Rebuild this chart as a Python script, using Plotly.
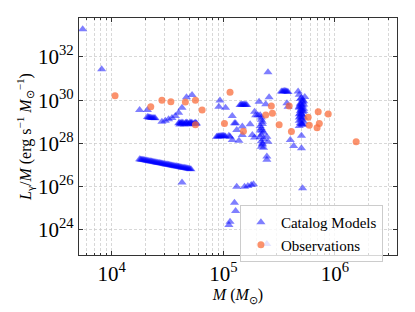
import numpy as np
import plotly.graph_objects as go

# Catalog models: log10(M / Msun), log10(L_gamma/M / erg s^-1 Msun^-1)
catalog_log_mass = [
    3.74, 3.91, 4.25, 4.32,
    4.32, 4.34, 4.36, 4.38, 4.39, 4.33, 4.35, 4.37,
    4.45, 4.48, 4.51, 4.54, 4.57, 4.60, 4.63, 4.67, 4.72,
    4.60, 4.62, 4.64, 4.66, 4.68, 4.70, 4.72, 4.74, 4.76, 4.61, 4.65, 4.69, 4.73,
    4.61, 4.63, 4.67, 4.71, 4.75, 4.63, 4.67, 4.71, 4.75,
    4.25, 4.27, 4.29, 4.31, 4.33, 4.35, 4.37, 4.39, 4.41, 4.43, 4.45, 4.47,
    4.49, 4.51, 4.53, 4.55, 4.57, 4.59, 4.61, 4.63, 4.65, 4.67, 4.69, 4.71,
    4.26, 4.28, 4.30, 4.32, 4.34, 4.36, 4.38, 4.40, 4.42, 4.44, 4.46, 4.48,
    4.50, 4.52, 4.54, 4.56, 4.58, 4.60, 4.62, 4.64, 4.66, 4.68, 4.70,
    4.63,
    4.97, 4.96, 5.02, 5.08, 5.15, 5.17, 5.19, 5.21, 5.16, 5.18, 5.20, 5.11,
    4.94, 4.96, 4.98, 5.00, 4.95, 4.97, 4.99, 5.01,
    5.02, 5.05, 5.08, 5.06, 5.14, 5.10, 5.17, 5.12, 5.17,
    5.40, 5.32, 5.41, 5.38, 5.28, 5.29, 5.31, 5.24, 5.33, 5.34, 5.35, 5.34, 5.36,
    5.33, 5.26, 5.28, 5.33, 5.34, 5.35, 5.36, 5.39, 5.40, 5.39, 5.39,
    5.34, 5.35, 5.33, 5.35, 5.34, 5.36, 5.35, 5.34,
    5.52, 5.54, 5.56, 5.58, 5.53, 5.55, 5.57, 5.67, 5.58, 5.57,
    5.68, 5.70, 5.72, 5.69, 5.71, 5.68, 5.70, 5.72, 5.69, 5.71, 5.68, 5.70, 5.72,
    5.69, 5.71, 5.68, 5.70, 5.71, 5.73, 5.69, 5.70,
    5.69, 5.71, 5.68, 5.72, 5.69, 5.71, 5.70, 5.72, 5.68, 5.71, 5.69, 5.70, 5.72, 5.68, 5.70,
    5.60, 5.63, 5.70, 5.70,
    5.12, 5.19, 5.22, 5.25, 5.27, 5.71, 5.10, 5.11, 5.06, 5.05, 5.39,
]
catalog_log_lum = [
    33.28, 31.43, 29.55, 29.55,
    29.22, 29.20, 29.18, 29.17, 29.16, 29.21, 29.19, 29.18,
    29.00, 29.05, 29.12, 29.18, 29.27, 29.42, 29.65, 30.14, 30.24,
    28.93, 28.93, 28.94, 28.94, 28.94, 28.94, 28.94, 28.93, 28.92, 28.88, 28.88, 28.89, 28.89,
    28.96, 28.97, 28.97, 28.97, 28.96, 28.90, 28.90, 28.91, 28.90,
    27.27, 27.25, 27.23, 27.21, 27.19, 27.17, 27.15, 27.13, 27.11, 27.09, 27.07, 27.05,
    27.03, 27.01, 26.99, 26.97, 26.95, 26.93, 26.91, 26.89, 26.87, 26.85, 26.83, 26.81,
    27.26, 27.24, 27.22, 27.20, 27.18, 27.16, 27.14, 27.12, 27.10, 27.08, 27.06, 27.04,
    27.02, 27.00, 26.98, 26.96, 26.94, 26.92, 26.90, 26.88, 26.86, 26.84, 26.82,
    26.19,
    29.98, 29.70, 29.65, 29.27, 29.78, 29.79, 29.79, 29.78, 29.80, 29.80, 29.79, 28.93,
    28.31, 28.33, 28.34, 28.35, 28.32, 28.33, 28.34, 28.33,
    28.32, 28.36, 28.16, 28.31, 28.12, 28.93, 28.78, 28.62, 28.39,
    31.29, 29.93, 30.14, 29.81, 29.47, 29.30, 29.30, 28.89, 29.30, 29.10, 28.90, 28.70, 28.50,
    28.60, 28.39, 28.27, 28.30, 28.10, 27.95, 27.80, 28.31, 28.08, 27.39, 27.24,
    29.20, 29.00, 28.80, 28.60, 28.40, 28.20, 28.00, 27.85,
    30.40, 30.41, 30.41, 30.38, 30.40, 30.42, 30.40, 30.40, 29.70, 29.86,
    30.25, 30.10, 29.95, 29.85, 29.75, 29.65, 29.55, 29.50, 29.40, 29.30, 29.20, 29.10, 29.00,
    28.95, 28.85, 28.80, 29.60, 30.00, 30.15, 29.25, 28.90,
    30.05, 29.90, 29.70, 29.60, 29.50, 29.45, 29.35, 29.20, 29.05, 28.90, 29.80, 29.70, 29.80, 29.35, 29.15,
    28.16, 27.88, 28.35, 27.78,
    26.00, 26.00, 26.03, 26.08, 26.11, 25.93, 25.26, 24.88, 24.38, 24.23, 23.35,
]

# Observations
obs_log_mass = [
    4.03, 4.35, 4.45, 4.53, 4.66, 4.75, 4.81, 4.75, 5.06, 5.01, 5.18,
    5.43, 5.44, 5.38, 5.50, 5.61, 5.59, 5.76, 5.85, 5.94, 5.77, 5.86, 5.84, 6.19,
]
obs_log_lum = [
    30.20, 29.70, 30.00, 29.93, 29.92, 30.00, 29.55, 28.86, 30.37, 28.92, 28.56,
    29.73, 29.40, 29.32, 28.86, 28.55, 29.73, 29.21, 29.46, 29.36, 28.84, 28.92, 28.73, 28.08,
]

y_tick_exps = [24, 26, 28, 30, 32]
x_tick_exps = [4, 5, 6]
x_minor_decades = [3, 4, 5, 6]
x_minor_mults = [2, 3, 4, 5, 6, 7, 8, 9]

FONT = "Liberation Serif"
grid_col = "rgba(200,200,200,0.7)"
grid_dash = "3px,2px"

fig = go.Figure()
fig.add_trace(go.Scatter(
    x=10.0 ** np.array(catalog_log_mass), y=10.0 ** np.array(catalog_log_lum),
    mode="markers", name="Catalog Models",
    marker=dict(symbol="triangle-up", size=8, color="rgba(0,0,255,0.5)", line=dict(width=0)),
))
fig.add_trace(go.Scatter(
    x=10.0 ** np.array(obs_log_mass), y=10.0 ** np.array(obs_log_lum),
    mode="markers", name="Observations",
    marker=dict(symbol="circle", size=7, color="rgba(250,110,60,0.75)", line=dict(width=0)),
))

axis_common = dict(
    type="log", showline=True, linecolor="#333", linewidth=1.2, mirror="ticks",
    ticks="inside", ticklen=4, tickcolor="#333",
    showgrid=True, gridcolor=grid_col, griddash=grid_dash, gridwidth=0.8,
    zeroline=False, tickfont=dict(family=FONT, size=21, color="black"),
)

fig.update_xaxes(
    **axis_common,
    range=[3.707, 6.556],
    tickvals=[10.0 ** e for e in x_tick_exps],
    ticktext=[f"10<sup>{e}</sup>" for e in x_tick_exps],
    minor=dict(tickmode="array",
               tickvals=[m * 10.0 ** d for d in x_minor_decades for m in x_minor_mults],
               ticks="inside", ticklen=2, tickcolor="#333", showgrid=True,
               gridcolor=grid_col, griddash=grid_dash, gridwidth=0.8),
    title=dict(text="<i>M</i> (<i>M</i><sub>⊙</sub>)", font=dict(family=FONT, size=16, color="black"), standoff=0),
)
fig.update_yaxes(
    **axis_common,
    range=[22.84, 33.80],
    tickvals=[10.0 ** e for e in y_tick_exps],
    ticktext=[f"10<sup>{e}</sup>" for e in y_tick_exps],
    title=dict(text="<i>L</i><sub>γ</sub>/<i>M</i> (erg s<sup>−1</sup> <i>M</i><sub>⊙</sub><sup>−1</sup>)",
               font=dict(family=FONT, size=16, color="black"), standoff=2),
)

# the page body adds an 8px offset, so margins are shifted to compensate
fig.update_layout(
    width=415, height=312,
    margin=dict(l=71, r=26, t=10, b=65),
    paper_bgcolor="white", plot_bgcolor="white",
    showlegend=True,
    legend=dict(x=0.506, y=0.211, xanchor="left", yanchor="top",
                bgcolor="rgba(255,255,255,0.8)", bordercolor="#ccc", borderwidth=1,
                font=dict(family=FONT, size=15, color="black"),
                tracegroupgap=0),
    font=dict(family=FONT),
)

fig.write_html("out.html")
